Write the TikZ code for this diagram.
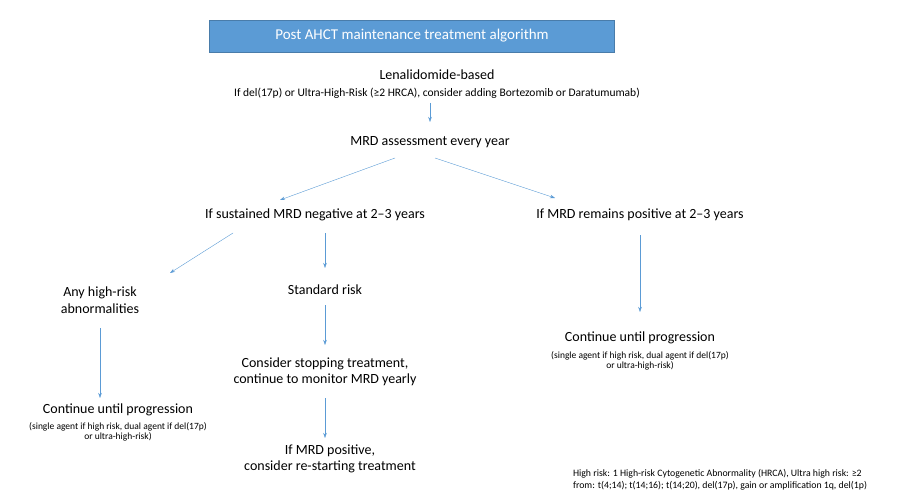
\documentclass[tikz,border=0pt]{standalone}
\usepackage{fontspec}
\setmainfont{Carlito}
\usetikzlibrary{arrows.meta}
\definecolor{boxblue}{HTML}{5B9BD5}
\definecolor{arrowblue}{HTML}{5B9BD5}
\begin{document}
\begin{tikzpicture}[x=1pt,y=-1pt]
\tikzset{step text/.style = {align=center,font=\fontsize{14}{16.5}\selectfont}}
\tikzset{note text/.style = {align=center,font=\fontsize{9.5}{10.5}\selectfont}}
\tikzset{flow/.style = {-{Stealth[length=5pt,width=3.5pt]},arrowblue,thin}}
\useasboundingbox (0,0) rectangle (900,500);
% title
\node[fill=boxblue,draw=boxblue!80!black,text=white,minimum width=405,minimum height=32,font=\fontsize{15}{17}\selectfont] (title) at (412,36) {Post AHCT maintenance treatment algorithm};
% steps
\node[step text] (len) at (437,75) {Lenalidomide-based};
\node[font=\fontsize{11.5}{13}\selectfont] (lenn) at (437,93) {If del(17p) or Ultra-High-Risk (≥2 HRCA), consider adding Bortezomib or Daratumumab)};
\node[step text] (mrd) at (430,142) {MRD assessment every year};
\node[step text] (neg) at (315,215) {If sustained MRD negative at 2–3 years};
\node[step text] (pos) at (640,215) {If MRD remains positive at 2–3 years};
\node[step text] (hr) at (100,300) {Any high-risk\\abnormalities};
\node[step text] (sr) at (325,290) {Standard risk};
\node[step text] (stop) at (325,372) {Consider stopping  treatment,\\continue to monitor MRD yearly};
\node[step text] (restart) at (330,459) {If MRD positive,\\consider re-starting treatment};
\node[step text] (contl) at (118,410) {Continue until progression};
\node[note text] (contln) at (118,432) {(single agent if high risk, dual agent if del(17p)\\or ultra-high-risk)};
\node[step text] (contr) at (640,338) {Continue until progression};
\node[note text] (contrn) at (640,361) {(single agent if high risk, dual agent if del(17p)\\or ultra-high-risk)};
\node[font=\fontsize{9.8}{12}\selectfont,align=left] (foot) at (720,480) {High risk: 1 High-risk Cytogenetic Abnormality (HRCA), Ultra high risk: ≥2\\from: t(4;14); t(14;16); t(14;20), del(17p), gain or amplification 1q, del(1p)};
% arrows
\draw[flow] (430,103) -- (430,122);
\draw[flow] (395,158) -- (280,200);
\draw[flow] (435,158) -- (555,198);
\draw[flow] (233,233) -- (170,273);
\draw[flow] (325,233) -- (325,268);
\draw[flow] (325,305) -- (325,345);
\draw[flow] (325,398) -- (325,438);
\draw[flow] (100,328) -- (100,398);
\draw[flow] (640,235) -- (640,312);
\end{tikzpicture}
\end{document}
